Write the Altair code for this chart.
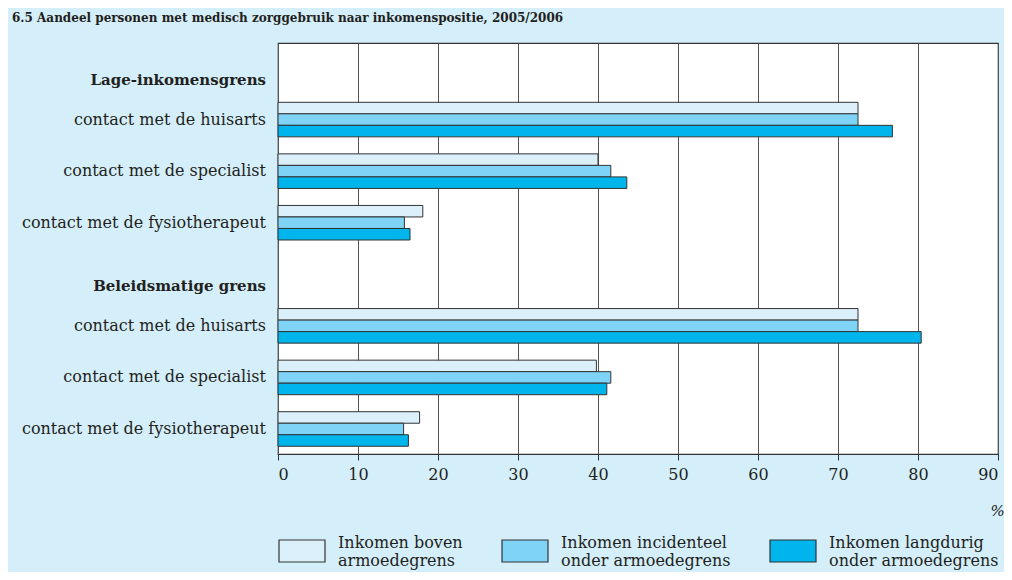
import altair as alt
import pandas as pd

# ---- data ----
row_ids = ["L_head", "L_huisarts", "L_specialist", "L_fysio",
           "B_head", "B_huisarts", "B_specialist", "B_fysio"]
row_labels = ["Lage-inkomensgrens", "contact met de huisarts", "contact met de specialist",
              "contact met de fysiotherapeut",
              "Beleidsmatige grens", "contact met de huisarts", "contact met de specialist",
              "contact met de fysiotherapeut"]
row_kind = ["header", "item", "item", "item", "header", "item", "item", "item"]

series_line1 = ["Inkomen boven", "Inkomen incidenteel", "Inkomen langdurig"]
series_line2 = ["armoedegrens", "onder armoedegrens", "onder armoedegrens"]
series = [a + " " + b for a, b in zip(series_line1, series_line2)]
series_colors = ["#dcf0fb", "#7ed3f6", "#00b5ec"]

bar_rows = ["L_huisarts", "L_specialist", "L_fysio", "B_huisarts", "B_specialist", "B_fysio"]
boven = [72.5, 40.0, 18.1, 72.5, 39.8, 17.7]
incidenteel = [72.5, 41.6, 15.8, 72.5, 41.6, 15.7]
langdurig = [76.8, 43.6, 16.5, 80.4, 41.1, 16.3]

x_ticks = [0, 10, 20, 30, 40, 50, 60, 70, 80, 90]
title_text = "6.5 Aandeel personen met medisch zorggebruik naar inkomenspositie, 2005/2006"

# ---- tables ----
recs = []
for vals, s in zip([boven, incidenteel, langdurig], series):
    for r, v in zip(bar_rows, vals):
        recs.append({"row": r, "series": s, "value": v})
bars_df = pd.DataFrame(recs)
labels_df = pd.DataFrame({"row": row_ids, "label": row_labels, "kind": row_kind})

FONT = "DejaVu Serif"
TXT = "#231f20"

label_expr = " : ".join(
    f"datum.label === '{s}' ? ['{a}', '{b}']" for s, a, b in zip(series, series_line1, series_line2)
) + " : datum.label"

y_enc = alt.Y("row:N", sort=row_ids,
              scale=alt.Scale(domain=row_ids, paddingInner=0.33, paddingOuter=0.15),
              axis=None)

bars = alt.Chart(bars_df).mark_bar(stroke="#333333", strokeWidth=1).encode(
    x=alt.X("value:Q",
            scale=alt.Scale(domain=[0, 90], nice=False, zero=True),
            axis=alt.Axis(values=x_ticks, title="%", grid=True, gridColor="#555555",
                          gridWidth=1, gridOpacity=1, domain=False,
                          tickColor="#333333", tickSize=6, tickWidth=1,
                          labelFont=FONT, labelFontSize=16, labelColor=TXT, labelPadding=6,
                          titleFont=FONT, titleFontSize=15, titleFontWeight="normal",
                          titleFontStyle="italic", titleColor=TXT,
                          titleX=719, titleY=56, titleAlign="center", titleBaseline="middle")),
    y=y_enc,
    yOffset=alt.YOffset("series:N", sort=series),
    fill=alt.Fill("series:N", sort=series,
                  scale=alt.Scale(domain=series, range=series_colors),
                  legend=alt.Legend(title=None, orient="none", direction="horizontal",
                                    legendX=0, legendY=484, padding=0,
                                    symbolType="M-1,-0.478H1V0.478H-1Z", symbolSize=2116,
                                    symbolStrokeColor="#333333", symbolStrokeWidth=1.2,
                                    symbolOpacity=1,
                                    labelExpr=label_expr, labelFont=FONT, labelFontSize=16,
                                    labelColor=TXT, labelOffset=12, labelLimit=300,
                                    columnPadding=36, labelBaseline="bottom")),
)

items = alt.Chart(labels_df).transform_filter(alt.datum.kind == "item").mark_text(
    align="right", baseline="middle", font=FONT, fontSize=16, color=TXT
).encode(x=alt.value(-12), y=y_enc, text="label:N")

heads = alt.Chart(labels_df).transform_filter(alt.datum.kind == "header").mark_text(
    align="right", baseline="middle", font=FONT, fontSize=15, fontWeight="bold", color=TXT, dy=12
).encode(x=alt.value(-12), y=y_enc, text="label:N")

chart = alt.layer(bars, items, heads).properties(
    width=720, height=411,
    padding={"left": 270, "top": 35, "right": 6, "bottom": 118},
    autosize=alt.AutoSizeParams(type="none"),
    background="#d4eefa",
    title=alt.TitleParams(title_text, anchor="start", frame="group", dx=-266, offset=18,
                          font=FONT, fontSize=12, fontWeight="bold", color=TXT),
).configure_view(fill="white", stroke="#333333", strokeWidth=1.2)

chart.save("out.html", embed_options={"renderer": "svg", "actions": False})
